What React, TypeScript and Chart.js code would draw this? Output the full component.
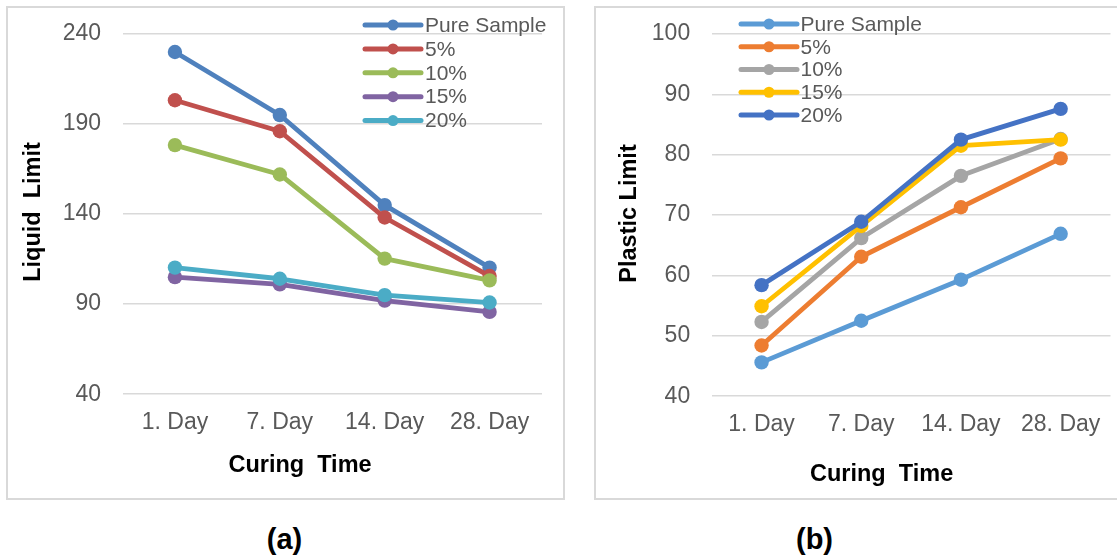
import { useEffect, useRef } from "react";
import { Chart, registerables } from "chart.js";

Chart.register(...registerables);

const FONT = '"Liberation Sans", Arial, Helvetica, sans-serif';

// Category axis shared by both panels
const curingTimes = ["1. Day", "7. Day", "14. Day", "28. Day"];
const mixtures = ["Pure Sample", "5%", "10%", "15%", "20%"];

// Liquid limit for each mixture
const llPure = [230, 195, 145, 110.3];
const ll5 = [203.2, 186, 138.1, 105.6];
const ll10 = [178.3, 162, 115.3, 103.2];
const ll15 = [105, 101, 92, 85.7];
const ll20 = [110.3, 104.1, 95, 90.9];

// Plastic limit for each mixture
const plPure = [45.6, 52.5, 59.3, 66.9];
const pl5 = [48.4, 63.1, 71.3, 79.4];
const pl10 = [52.3, 66.2, 76.5, 82.6];
const pl15 = [54.9, 68.2, 81.5, 82.5];
const pl20 = [58.4, 68.9, 82.5, 87.6];

// Value axis ranges
const llAxis = { min: 40, max: 240, step: 50 };
const plAxis = { min: 40, max: 100, step: 10 };

const llColors = ["#4F81BD", "#C0504D", "#9BBB59", "#8064A2", "#4BACC6"];
const plColors = ["#5B9BD5", "#ED7D31", "#A5A5A5", "#FFC000", "#4472C4"];

const TICK_COLOR = "#595959";

// Draws the in-plot legend and the axis captions of a panel
const panelDecor = {
  id: "panelDecor",
  afterDraw(chart: any, _args: any, opts: any) {
    const ctx: CanvasRenderingContext2D = chart.ctx;
    ctx.save();
    const L = opts.legend;
    chart.data.datasets.forEach((ds: any, i: number) => {
      const y = L.y + i * L.step;
      ctx.strokeStyle = ds.borderColor;
      ctx.lineWidth = L.lineWidth;
      ctx.lineCap = "round";
      ctx.beginPath();
      ctx.moveTo(L.x0, y);
      ctx.lineTo(L.x1, y);
      ctx.stroke();
      ctx.fillStyle = ds.borderColor;
      ctx.beginPath();
      ctx.arc((L.x0 + L.x1) / 2, y, L.r, 0, Math.PI * 2);
      ctx.fill();
      ctx.fillStyle = TICK_COLOR;
      ctx.font = `21px ${FONT}`;
      ctx.textAlign = "left";
      ctx.textBaseline = "middle";
      ctx.fillText(ds.label, L.textX, y + 1);
    });

    ctx.fillStyle = "#000";
    ctx.font = `bold 23.5px ${FONT}`;
    ctx.textAlign = "center";
    ctx.textBaseline = "middle";
    const xt = opts.xTitle;
    ctx.fillText(xt.text, xt.x, xt.y);
    const yt = opts.yTitle;
    ctx.translate(yt.x, yt.y);
    ctx.rotate(-Math.PI / 2);
    ctx.fillText(yt.text, 0, 0);
    ctx.restore();
  },
};

type PanelSpec = {
  series: number[][];
  colors: string[];
  axis: { min: number; max: number; step: number };
  yWidth: number;
  xHeight: number;
  padTop: number;
  padRight: number;
  legend: any;
  xTitle: any;
  yTitle: any;
};

function buildConfig(p: PanelSpec): any {
  const n = p.series.length;
  return {
    type: "line",
    data: {
      labels: curingTimes,
      datasets: p.series.map((values, i) => ({
        label: mixtures[i],
        data: values,
        borderColor: p.colors[i],
        backgroundColor: p.colors[i],
        pointBackgroundColor: p.colors[i],
        pointBorderWidth: 0,
        pointRadius: 7.2,
        borderWidth: 4.8,
        borderJoinStyle: "round",
        borderCapStyle: "round",
        tension: 0,
        fill: false,
        clip: false,
        order: n - i,
      })),
    },
    options: {
      responsive: false,
      animation: false,
      devicePixelRatio: 1,
      events: [],
      layout: {
        autoPadding: false,
        padding: { left: 0, top: p.padTop, right: p.padRight, bottom: 0 },
      },
      plugins: {
        legend: { display: false },
        tooltip: { enabled: false },
        title: { display: false },
        panelDecor: { legend: p.legend, xTitle: p.xTitle, yTitle: p.yTitle },
      },
      scales: {
        x: {
          type: "category",
          offset: true,
          grid: { display: false, drawTicks: false },
          border: { display: false },
          ticks: {
            color: TICK_COLOR,
            font: { family: FONT, size: 23 },
            padding: 14.5,
            maxRotation: 0,
            autoSkip: false,
          },
          afterFit: (s: any) => {
            s.height = p.xHeight;
            s.paddingLeft = 0;
            s.paddingRight = 0;
          },
        },
        y: {
          min: p.axis.min,
          max: p.axis.max,
          grid: { color: "#d9d9d9", lineWidth: 1.5, drawTicks: false },
          border: { display: false },
          ticks: {
            stepSize: p.axis.step,
            color: TICK_COLOR,
            font: { family: FONT, size: 23 },
            padding: 21.5,
          },
          afterFit: (s: any) => {
            s.width = p.yWidth;
            s.paddingTop = 0;
            s.paddingBottom = 0;
          },
        },
      },
    },
    plugins: [panelDecor],
  };
}

function Panel({ x, y, w, h, spec }: { x: number; y: number; w: number; h: number; spec: PanelSpec }) {
  const ref = useRef<HTMLCanvasElement>(null);
  useEffect(() => {
    const chart = new Chart(ref.current as HTMLCanvasElement, buildConfig(spec));
    return () => chart.destroy();
  }, []);
  return (
    <>
      <canvas
        ref={ref}
        width={w}
        height={h}
        style={{ position: "absolute", left: x, top: y, width: w, height: h }}
      />
      <div
        style={{
          position: "absolute",
          left: x - 1,
          top: y - 1,
          width: w + 2,
          height: h + 2,
          border: "2px solid #d9d9d9",
          boxSizing: "border-box",
          pointerEvents: "none",
        }}
      />
    </>
  );
}

const liquidSpec: PanelSpec = {
  series: [llPure, ll5, ll10, ll15, ll20],
  colors: llColors,
  axis: llAxis,
  yWidth: 115.5,
  xHeight: 104.8,
  padTop: 27,
  padRight: 22,
  legend: { x0: 358, x1: 414, r: 5.5, lineWidth: 5, textX: 418, y: 18, step: 23.9 },
  xTitle: { text: "Curing  Time", x: 293, y: 458.5 },
  yTitle: { text: "Liquid  Limit", x: 27, y: 205 },
};

const plasticSpec: PanelSpec = {
  series: [plPure, pl5, pl10, pl15, pl20],
  colors: plColors,
  axis: plAxis,
  yWidth: 116.7,
  xHeight: 102.8,
  padTop: 27,
  padRight: 14.5,
  legend: { x0: 146, x1: 202, r: 5.5, lineWidth: 5, textX: 205.5, y: 17, step: 22.75 },
  xTitle: { text: "Curing  Time", x: 286.6, y: 467.2 },
  yTitle: { text: "Plastic Limit", x: 34.5, y: 206.5 },
};

const captionStyle = {
  position: "absolute" as const,
  width: 100,
  top: 523,
  height: 32,
  lineHeight: "32px",
  textAlign: "center" as const,
  fontFamily: FONT,
  fontWeight: "bold" as const,
  fontSize: 29,
  color: "#000",
};

export default function App() {
  return (
    <div
      style={{
        position: "fixed",
        left: 0,
        top: 0,
        width: 1117,
        height: 558,
        overflow: "hidden",
        background: "#fff",
      }}
    >
      <Panel x={7} y={7} w={557} h={492} spec={liquidSpec} />
      <Panel x={595} y={7} w={530} h={492} spec={plasticSpec} />
      <div style={{ ...captionStyle, left: 284.5 - 50 }}>(a)</div>
      <div style={{ ...captionStyle, left: 814.5 - 50 }}>(b)</div>
    </div>
  );
}
